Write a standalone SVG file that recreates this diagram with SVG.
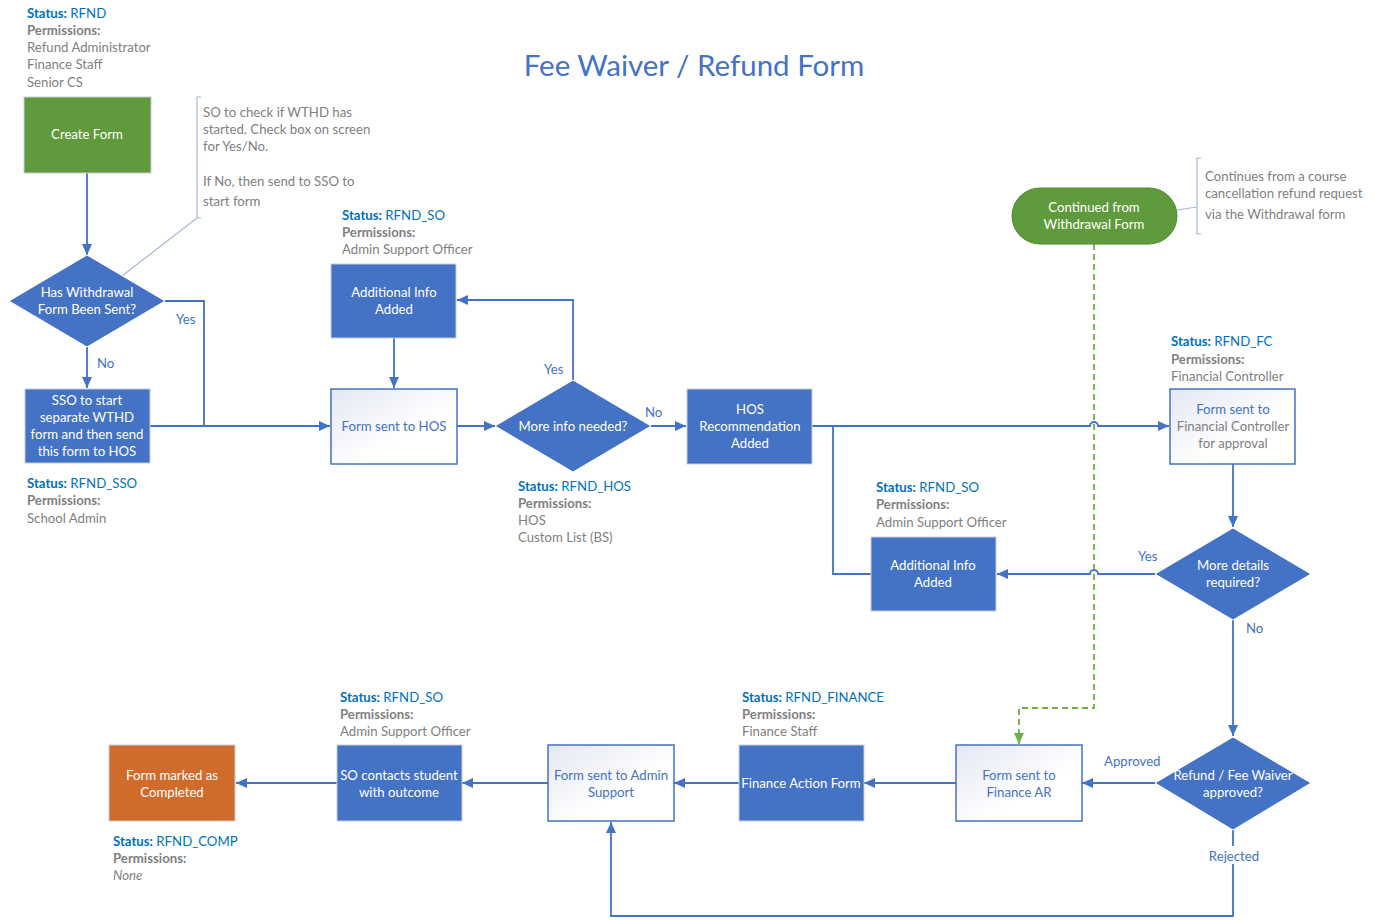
<svg xmlns="http://www.w3.org/2000/svg" width="1380" height="920" viewBox="0 0 1380 920">
<style>
text{font-family:Lato,"Open Sans","Liberation Sans",sans-serif;font-size:13.2px}
.t{fill:#ffffff;text-anchor:middle}
.bt{fill:#4472C4;text-anchor:middle}
.gt{fill:#7F7F7F;text-anchor:middle}
.lbl{fill:#4472C4}
.st{fill:#0070C0}
.stb{fill:#0070C0;font-weight:bold}
.pm{fill:#7F7F7F;font-weight:bold}
.pv{fill:#7F7F7F}
.note{fill:#7F7F7F}
.solid{fill:#4472C4;stroke:#C9CED8;stroke-width:1}
.white{fill:url(#wg);stroke:#4472C4;stroke-width:1.5}
.dia{fill:#4472C4;stroke:#ffffff;stroke-width:1}
.c{fill:none;stroke:#4472C4;stroke-width:1.8}
.ca{fill:none;stroke:#4472C4;stroke-width:1.8;marker-end:url(#ah)}
.br{fill:none;stroke:#A6B8D8;stroke-width:1.2}
</style>
<defs>
<linearGradient id="wg" x1="0" y1="0" x2="1" y2="1">
<stop offset="0" stop-color="#E4E7F4"/>
<stop offset="0.6" stop-color="#FFFFFF"/>
</linearGradient>
<marker id="ah" markerWidth="12" markerHeight="12" refX="11" refY="6" orient="auto" markerUnits="userSpaceOnUse">
<path d="M0,1 L11,6 L0,11 z" fill="#4472C4"/>
</marker>
<marker id="gah" markerWidth="12" markerHeight="12" refX="11" refY="6" orient="auto" markerUnits="userSpaceOnUse">
<path d="M0,1 L11,6 L0,11 z" fill="#70AD47"/>
</marker>
</defs>
<rect width="1380" height="920" fill="#ffffff"/>
<text x="694" y="76" style="font-size:29.5px;fill:#4472C4;text-anchor:middle">Fee Waiver / Refund Form</text>

<g id="connectors">
<path class="ca" d="M87,173 V255"/>
<path class="ca" d="M87,347 V388"/>
<path class="c" d="M165,301 H204 V426"/>
<path class="ca" d="M150,426 H330"/>
<path class="ca" d="M394,338 V388"/>
<path class="ca" d="M457,426 H495"/>
<path class="ca" d="M573,380 V300 H457"/>
<path class="ca" d="M651,426 H686"/>
<path class="ca" d="M812,426 H1090 A4,4 0 0 1 1098,426 H1169"/>
<path class="c" d="M871,574 H833 V426"/>
<path class="ca" d="M1233,464 V527"/>
<path class="ca" d="M1155,574 H1098 A4,4 0 0 0 1090,574 H997"/>
<path class="ca" d="M1233,620 V736"/>
<path class="ca" d="M1155,783 H1082"/>
<path class="ca" d="M956,783 H864"/>
<path class="ca" d="M739,783 H674"/>
<path class="ca" d="M548,783 H462"/>
<path class="ca" d="M337,783 H236"/>
<path class="ca" d="M1233,830 V916 H611 V822"/>
<path d="M1094,244 V708 H1019 V744" fill="none" stroke="#70AD47" stroke-width="1.8" stroke-dasharray="6,4" marker-end="url(#gah)"/>
<path class="br" d="M197,218 L122,276"/>
<path class="br" d="M1177,210 L1197,207"/>
<text class="lbl" x="176" y="324">Yes</text>
<text class="lbl" x="97" y="368">No</text>
<text class="lbl" x="544" y="374">Yes</text>
<text class="lbl" x="645" y="417">No</text>
<text class="lbl" x="1138" y="561">Yes</text>
<text class="lbl" x="1246" y="633">No</text>
<text class="lbl" x="1104" y="766">Approved</text>
<rect x="1205" y="846" width="56" height="18" fill="#ffffff"/>
<text class="lbl" x="1234" y="861" style="text-anchor:middle">Rejected</text>
</g>

<g id="status-rfnd">
<text x="27" y="18"><tspan class="stb">Status:</tspan><tspan class="st"> RFND</tspan></text>
<text class="pm" x="27" y="35">Permissions:</text>
<text class="pv" x="27" y="52">Refund Administrator</text>
<text class="pv" x="27" y="69">Finance Staff</text>
<text class="pv" x="27" y="87">Senior CS</text>
</g>

<g id="create-form">
<rect x="24" y="97" width="127" height="76" fill="#5F9A3C" stroke="#C9CED8"/>
<text class="t" x="87" y="139">Create Form</text>
</g>

<g id="note-wthd">
<path class="br" d="M201,97 H197 V218 H201"/>
<text class="note" x="203" y="117">SO to check if WTHD has</text>
<text class="note" x="203" y="134">started. Check box on screen</text>
<text class="note" x="203" y="151">for Yes/No.</text>
<text class="note" x="203" y="186">If No, then send to SSO to</text>
<text class="note" x="203" y="206">start form</text>
</g>

<g id="dec-withdrawal">
<path class="dia" d="M87,255 L165,301 L87,347 L9,301 Z"/>
<text class="t" x="87" y="297">Has Withdrawal</text>
<text class="t" x="87" y="314">Form Been Sent?</text>
</g>

<g id="sso-start">
<rect class="solid" x="25" y="389" width="125" height="74"/>
<text class="t" x="87" y="405">SSO to start</text>
<text class="t" x="87" y="422">separate WTHD</text>
<text class="t" x="87" y="439">form and then send</text>
<text class="t" x="87" y="456">this form to HOS</text>
</g>
<g id="status-sso">
<text x="27" y="488"><tspan class="stb">Status:</tspan><tspan class="st"> RFND_SSO</tspan></text>
<text class="pm" x="27" y="505">Permissions:</text>
<text class="pv" x="27" y="523">School Admin</text>
</g>

<g id="status-so1">
<text x="342" y="220"><tspan class="stb">Status:</tspan><tspan class="st"> RFND_SO</tspan></text>
<text class="pm" x="342" y="237">Permissions:</text>
<text class="pv" x="342" y="254">Admin Support Officer</text>
</g>
<g id="add-info-1">
<rect class="solid" x="331" y="264" width="125" height="74"/>
<text class="t" x="394" y="297">Additional Info</text>
<text class="t" x="394" y="314">Added</text>
</g>

<g id="form-hos">
<rect class="white" x="331" y="389" width="126" height="75"/>
<text class="bt" x="394" y="431">Form sent to HOS</text>
</g>

<g id="dec-moreinfo">
<path class="dia" d="M573,380 L651,426 L573,472 L495,426 Z"/>
<text class="t" x="573" y="431">More info needed?</text>
</g>
<g id="status-hos">
<text x="518" y="491"><tspan class="stb">Status:</tspan><tspan class="st"> RFND_HOS</tspan></text>
<text class="pm" x="518" y="508">Permissions:</text>
<text class="pv" x="518" y="525">HOS</text>
<text class="pv" x="518" y="542">Custom List (BS)</text>
</g>

<g id="hos-rec">
<rect class="solid" x="687" y="389" width="125" height="75"/>
<text class="t" x="750" y="414">HOS</text>
<text class="t" x="750" y="431">Recommendation</text>
<text class="t" x="750" y="448">Added</text>
</g>

<g id="status-so2">
<text x="876" y="492"><tspan class="stb">Status:</tspan><tspan class="st"> RFND_SO</tspan></text>
<text class="pm" x="876" y="509">Permissions:</text>
<text class="pv" x="876" y="527">Admin Support Officer</text>
</g>
<g id="add-info-2">
<rect class="solid" x="871" y="537" width="125" height="74"/>
<text class="t" x="933" y="570">Additional Info</text>
<text class="t" x="933" y="587">Added</text>
</g>

<g id="continued">
<rect x="1012" y="188" width="165" height="56" rx="28" ry="28" fill="#5F9A3C" stroke="#4F8A30"/>
<text class="t" x="1094" y="212">Continued from</text>
<text class="t" x="1094" y="229">Withdrawal Form</text>
</g>
<g id="note-continue">
<path class="br" d="M1201,158 H1197 V234 H1201"/>
<text class="note" x="1205" y="181">Continues from a course</text>
<text class="note" x="1205" y="198">cancellation refund request</text>
<text class="note" x="1205" y="219">via the Withdrawal form</text>
</g>

<g id="status-fc">
<text x="1171" y="346"><tspan class="stb">Status:</tspan><tspan class="st"> RFND_FC</tspan></text>
<text class="pm" x="1171" y="364">Permissions:</text>
<text class="pv" x="1171" y="381">Financial Controller</text>
</g>
<g id="form-fc">
<rect class="white" x="1170" y="389" width="125" height="75"/>
<text class="bt" x="1233" y="414">Form sent to</text>
<text class="gt" x="1233" y="431">Financial Controller</text>
<text class="gt" x="1233" y="448">for approval</text>
</g>

<g id="dec-moredetails">
<path class="dia" d="M1233,528 L1311,574 L1233,620 L1155,574 Z"/>
<text class="t" x="1233" y="570">More details</text>
<text class="t" x="1233" y="587">required?</text>
</g>

<g id="dec-approved">
<path class="dia" d="M1233,737 L1311,783 L1233,830 L1155,783 Z"/>
<text class="t" x="1233" y="780">Refund / Fee Waiver</text>
<text class="t" x="1233" y="797">approved?</text>
</g>

<g id="form-finance-ar">
<rect class="white" x="956" y="745" width="126" height="76"/>
<text class="bt" x="1019" y="780">Form sent to</text>
<text class="bt" x="1019" y="797">Finance AR</text>
</g>

<g id="status-finance">
<text x="742" y="702"><tspan class="stb">Status:</tspan><tspan class="st"> RFND_FINANCE</tspan></text>
<text class="pm" x="742" y="719">Permissions:</text>
<text class="pv" x="742" y="736">Finance Staff</text>
</g>
<g id="finance-action">
<rect class="solid" x="739" y="745" width="125" height="76"/>
<text class="t" x="801" y="788">Finance Action Form</text>
</g>

<g id="form-admin">
<rect class="white" x="548" y="745" width="126" height="76"/>
<text class="bt" x="611" y="780">Form sent to Admin</text>
<text class="bt" x="611" y="797">Support</text>
</g>

<g id="status-so3">
<text x="340" y="702"><tspan class="stb">Status:</tspan><tspan class="st"> RFND_SO</tspan></text>
<text class="pm" x="340" y="719">Permissions:</text>
<text class="pv" x="340" y="736">Admin Support Officer</text>
</g>
<g id="so-contacts">
<rect class="solid" x="337" y="745" width="125" height="76"/>
<text class="t" x="399" y="780">SO contacts student</text>
<text class="t" x="399" y="797">with outcome</text>
</g>

<g id="completed">
<rect x="109" y="745" width="126" height="76" fill="#D06B2B" stroke="#C9CED8"/>
<text class="t" x="172" y="780">Form marked as</text>
<text class="t" x="172" y="797">Completed</text>
</g>
<g id="status-comp">
<text x="113" y="846"><tspan class="stb">Status:</tspan><tspan class="st"> RFND_COMP</tspan></text>
<text class="pm" x="113" y="863">Permissions:</text>
<text class="pv" x="113" y="880" style="font-style:italic">None</text>
</g>
</svg>
